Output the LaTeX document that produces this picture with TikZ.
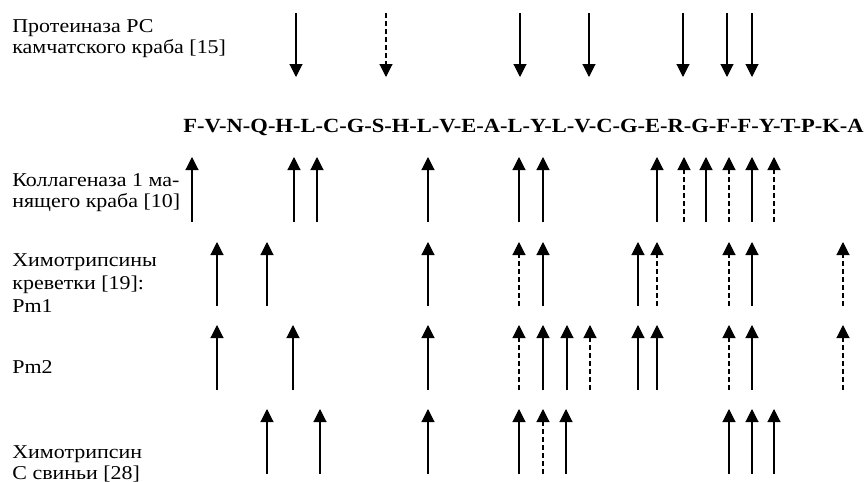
\documentclass[tikz,border=0pt]{standalone}
\usepackage{fontspec}
\setmainfont{Liberation Serif}[FakeStretch=1.12]
\usetikzlibrary{arrows.meta}
\tikzset{site/.style={-{Triangle[width=6.5pt,length=6.5pt]},line width=0.55pt},
		weak/.style={site,dash pattern=on 2.5pt off 1.5pt},
		enzyme/.style={anchor=base west,align=left,inner sep=0pt,font=\fontsize{9.8}{10.5}\selectfont}}
\begin{document}
\begin{tikzpicture}[x=0.5pt,y=-0.5pt,
		peptide/.style={anchor=base west,inner sep=0pt,font=\fontsize{10.05}{11}\selectfont\bfseries}]
	\useasboundingbox (0,0) rectangle (864,482);
	% multi-line labels sit on the baseline of their last line
	\node[enzyme] (kamchatka) at (12,54) {Протеиназа РС\\камчатского краба [15]};
	\node[peptide] (seq) at (183,133) {F-V-N-Q-H-L-C-G-S-H-L-V-E-A-L-Y-L-V-C-G-E-R-G-F-F-Y-T-P-K-A};
	\node[enzyme] (fiddler) at (12,207) {Коллагеназа 1 ма-\\нящего краба [10]};
	\node[enzyme,font=\fontsize{9.8}{11.5}\selectfont] (shrimp) at (12,312) {Химотрипсины\\креветки [19]:\\Pm1};
	\node[enzyme] (pm2) at (12,373) {Pm2};
	\node[enzyme] (pig) at (12,479) {Химотрипсин\\С свиньи [28]};

	% cleavage sites above the sequence
	\foreach \x in {296,520,589,683,727,752}
		\draw[site] (\x,13) -- (\x,77);
	\draw[weak] (386,13) -- (386,77);

	% collagenase
	\foreach \x in {192,294,317,428,519,543,657,706,752}
		\draw[site] (\x,222) -- (\x,157);
	\foreach \x in {684,729,774}
		\draw[weak] (\x,222) -- (\x,157);

	% Pm1
	\foreach \x in {217,267,428,543,638,752}
		\draw[site] (\x,306) -- (\x,242);
	\foreach \x in {519,657,729,843}
		\draw[weak] (\x,306) -- (\x,242);

	% Pm2
	\foreach \x in {217,293,428,543,567,638,657,752}
		\draw[site] (\x,390) -- (\x,325);
	\foreach \x in {519,590,729,843}
		\draw[weak] (\x,390) -- (\x,325);

	% chymotrypsin C
	\foreach \x in {267,320,428,519,566,729,752,774}
		\draw[site] (\x,474) -- (\x,409);
	\draw[weak] (543,474) -- (543,409);
\end{tikzpicture}
\end{document}
